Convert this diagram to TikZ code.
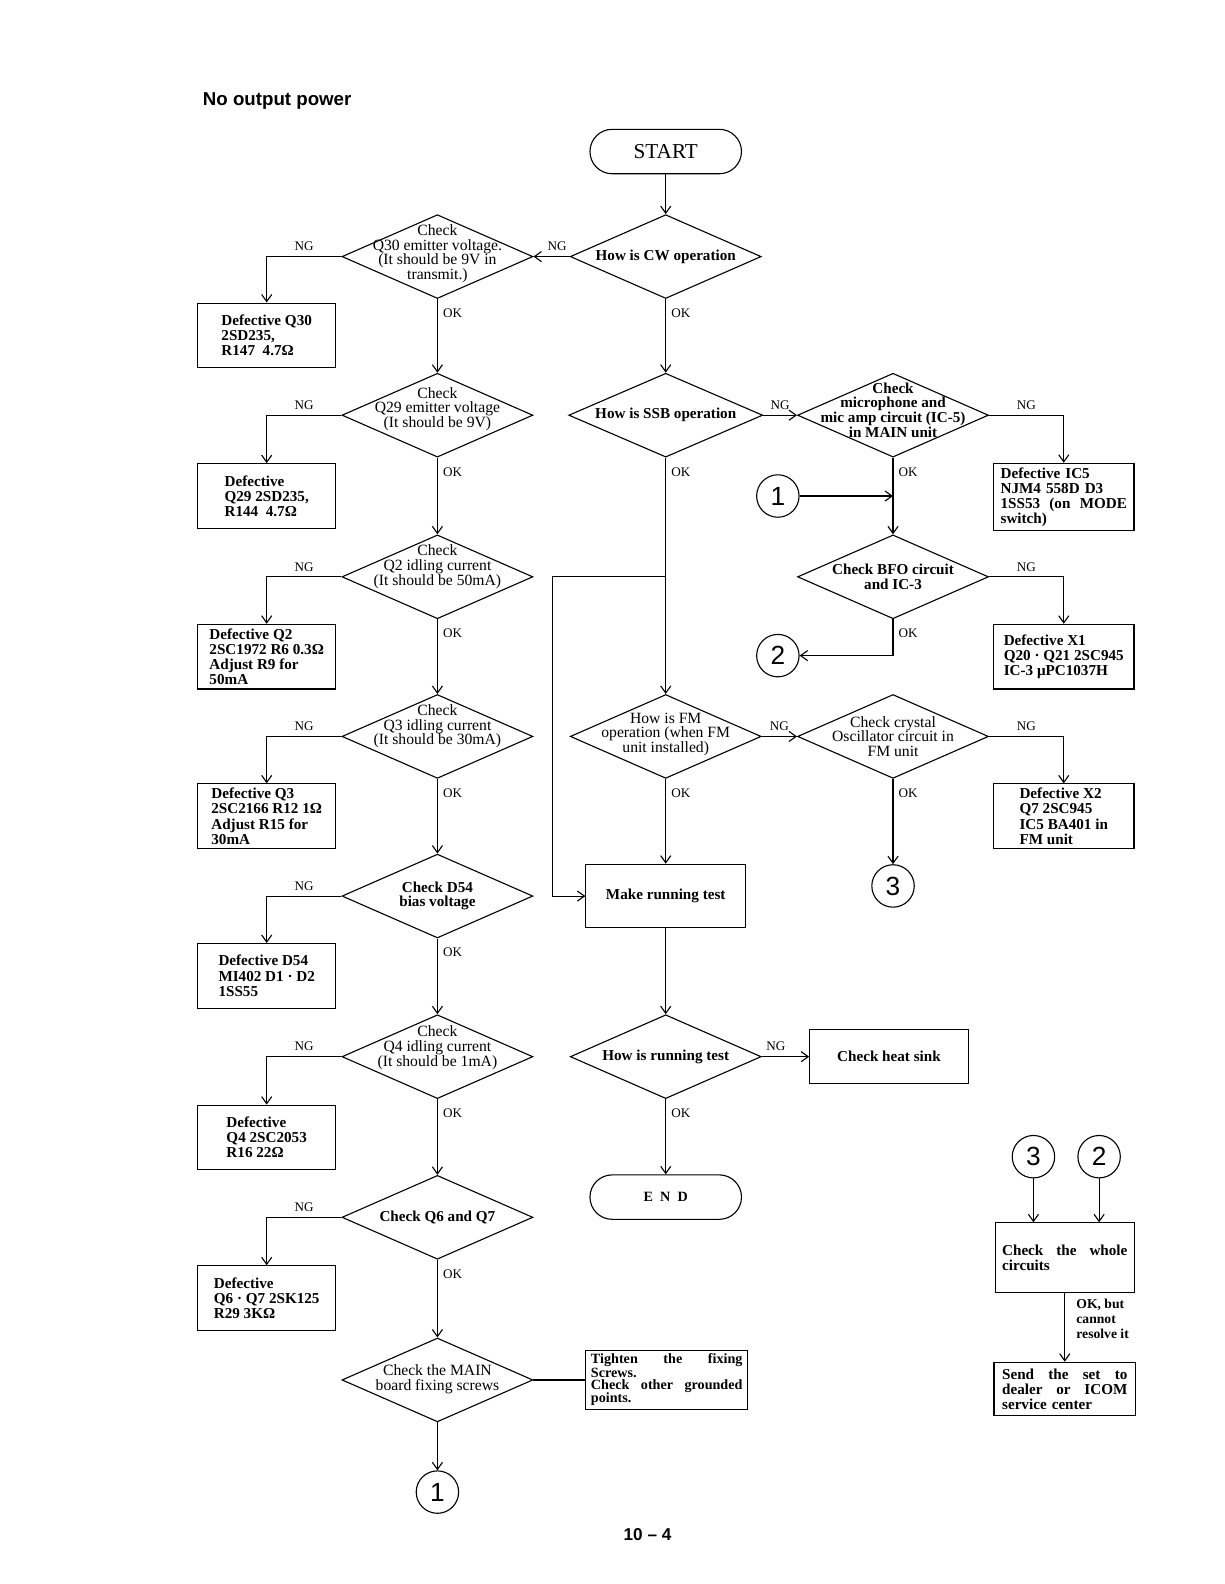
\documentclass[tikz,border=0pt]{standalone}
\usepackage{fontspec}
\setmainfont{Liberation Serif}
\setsansfont{Liberation Sans}
\usetikzlibrary{shapes.geometric,arrows.meta,positioning,calc}
\newcommand{\diafont}{\fontsize{15.5}{14.5}\selectfont}
\newcommand{\boxfont}{\fontsize{15}{15}\selectfont\bfseries}
\newcommand{\labfont}{\fontsize{13}{13}\selectfont}
\newcommand{\circfont}{\fontsize{26}{26}\selectfont\sffamily}

\begin{document}
\begin{tikzpicture}[x=1pt, y=-1pt, line width=1.1pt,
  >={Straight Barb[length=7pt,width=10pt]},
  dia/.style={diamond, draw, minimum width=189pt, minimum height=83pt, inner sep=0pt},
  dtext/.style={align=center, font=\diafont, inner sep=0pt},
  dbold/.style={dtext, font=\fontsize{15}{14.5}\selectfont\bfseries},
  defect/.style={rectangle, draw, minimum width=137pt, minimum height=64pt,
                 align=left, font=\boxfont, inner sep=4pt},
  plainbox/.style={rectangle, draw, align=center, font=\boxfont},
  term/.style={rectangle, draw, rounded corners=22pt, minimum width=150pt, minimum height=44pt},
  conn/.style={circle, draw, minimum size=42pt, inner sep=0pt, font=\circfont},
  ngl/.style={above=4pt, font=\labfont, inner sep=1pt},
  okl/.style={pos=0, anchor=west, yshift=-14pt, font=\labfont, inner sep=5pt},
]
\useasboundingbox (0,0) rectangle (1212,1568);

\node[anchor=west, font={\fontsize{18.5}{18.5}\selectfont\sffamily\bfseries}] (title) at (197,100) {No output power};

% middle column
\node[term, font=\fontsize{21}{21}\selectfont] (start) at (659,150) {START};
\node[dia, label={[dbold]center:How is CW operation}] (cw) at (659,254) {};
\node[dia, minimum width=192pt, label={[dbold]center:How is SSB operation}] (ssb) at (659,411) {};
\node[dia, label={[dtext, yshift=2pt]center:{How is FM\\operation (when FM\\unit installed)}}] (fm) at (659,729) {};
\node[plainbox, minimum width=158pt, minimum height=63pt] (run) at (659,887) {Make running test};
\node[dia, label={[dbold]center:How is running test}] (rt) at (659,1046) {};
\node[term, font=\fontsize{14}{14}\selectfont\bfseries] (finish) at (659,1185) {E\hspace{7pt}N\hspace{7pt}D};
\node[rectangle, draw, minimum width=160pt, minimum height=53pt, text width=150pt, inner xsep=5pt,
      align=left, font=\fontsize{14}{11.5}\selectfont\bfseries] (tight) at (660,1366)
      {Tighten\hfill the\hfill fixing\\Screws.\\Check\hfill other\hfill grounded\\points.};

% left column
\node[dia, label={[dtext, yshift=3pt]center:{Check\\Q30 emitter voltage.\\(It should be 9V in\\transmit.)}}] (q30) at (433,254) {};
\node[dia, label={[dtext, yshift=6pt]center:{Check\\Q29 emitter voltage\\(It should be 9V)}}] (q29) at (433,411) {};
\node[dia, label={[dtext, yshift=10pt]center:{Check\\Q2 idling current\\(It should be 50mA)}}] (q2) at (433,571) {};
\node[dia, label={[dtext, yshift=10pt]center:{Check\\Q3 idling current\\(It should be 30mA)}}] (q3) at (433,729) {};
\node[dia, label={[dbold]center:{Check D54\\bias voltage}}] (d54) at (433,887) {};
\node[dia, label={[dtext, yshift=9pt]center:{Check\\Q4 idling current\\(It should be 1mA)}}] (q4) at (433,1046) {};
\node[dia, label={[dbold]center:Check Q6 and Q7}] (q67) at (433,1205) {};
\node[dia, label={[dtext, yshift=1pt]center:{Check the MAIN\\board fixing screws}}] (scr) at (433,1366) {};
\node[conn] (c1b) at (433,1477) {1};

\node[defect] (dq30) at (264,332) {Defective Q30\\2SD235,\\R147\ \ 4.7Ω};
\node[defect] (dq29) at (264,491) {Defective\\Q29 2SD235,\\R144\ \ 4.7Ω};
\node[defect] (dq2) at (264,650) {Defective Q2\\2SC1972 R6 0.3Ω\\Adjust R9 for\\50mA};
\node[defect] (dq3) at (264,808) {Defective Q3\\2SC2166 R12 1Ω\\Adjust R15 for\\30mA};
\node[defect] (dd54) at (264,966) {Defective D54\\MI402 D1 · D2\\1SS55};
\node[defect] (dq4) at (264,1126) {Defective\\Q4 2SC2053\\R16 22Ω};
\node[defect] (dq67) at (264,1285) {Defective\\Q6 · Q7 2SK125\\R29 3KΩ};

% right column
\node[dia, label={[dbold, yshift=5pt]center:{Check\\microphone and\\mic amp circuit (IC-5)\\in MAIN unit}}] (mic) at (884,411) {};
\node[conn] (c1r) at (770,491) {1};
\node[dia, label={[dbold]center:{Check BFO circuit\\and IC-3}}] (bfo) at (884,571) {};
\node[conn] (c2r) at (770,649) {2};
\node[dia, label={[dtext]center:{Check crystal\\Oscillator circuit in\\FM unit}}] (xtal) at (884,729) {};
\node[conn] (c3r) at (884,877) {3};
\node[plainbox, minimum width=157pt, minimum height=53pt] (heat) at (880,1046) {Check heat sink};

\node[defect, minimum width=139pt, text width=125pt, inner xsep=5pt] (dic5) at (1053,492)
      {Defective IC5\\NJM4 558D D3\\1SS53\hfill(on\hfill MODE\\switch)};
\node[defect, minimum width=139pt] (dx1) at (1053,650) {Defective X1\\Q20 · Q21 2SC945\\IC-3 μPC1037H};
\node[defect, minimum width=139pt] (dx2) at (1053,808) {Defective X2\\Q7 2SC945\\IC5 BA401 in\\FM unit};

\node[conn] (c3x) at (1023,1145) {3};
\node[conn] (c2x) at (1088,1145) {2};
\node[rectangle, draw, minimum width=138pt, minimum height=69pt, text width=124pt, inner xsep=5pt,
      align=left, font=\boxfont] (whole) at (1054,1245) {Check\hfill the\hfill whole\\circuits};
\node[rectangle, draw, minimum width=140pt, minimum height=53pt, text width=124pt, inner xsep=5pt,
      align=left, font=\boxfont] (send) at (1054,1375)
      {Send\hfill the\hfill set\hfill to\\dealer\hfill or\hfill ICOM\\service center};

\node[font={\fontsize{17}{17}\selectfont\sffamily\bfseries}] (pg) at (641,1519) {10 – 4};

% connectors
\draw[->] (start) -- (cw);
\draw[->] (cw) -- node[ngl, pos=0.35]{NG} (q30);
\draw[->] (cw) -- node[okl]{OK} (ssb);
\foreach \a/\b in {q30/q29, q29/q2, q2/q3, q3/d54, d54/q4, q4/q67, q67/scr}
  \draw[->] (\a) -- node[okl]{OK} (\b);
\foreach \a in {q30,q29,q2,q3,d54,q4,q67}
  \draw[->] (\a.west) -| node[ngl, pos=0.25]{NG} (d\a);
\draw (scr) -- (tight);
\draw[->] (scr) -- (c1b);

\draw[->] (ssb) -- node[ngl]{NG} (mic);
\draw[->] (ssb) -- node[okl]{OK} (fm);
\coordinate (j2) at (659,571);
\draw[->] (j2) -- ++(-112,0) |- (run);
\draw[->] (fm) -- node[ngl]{NG} (xtal);
\draw[->] (fm) -- node[okl]{OK} (run);
\draw[->] (run) -- (rt);
\draw[->] (rt) -- node[ngl, pos=0.3]{NG} (heat);
\draw[->] (rt) -- node[okl]{OK} (finish);

\draw[->] (mic.east) -| node[ngl, pos=0.25]{NG} (dic5);
\draw[->] (mic) -- node[okl]{OK} (bfo);
\coordinate (j1) at (884,491);
\draw[->] (c1r) -- (j1);
\draw[->] (bfo.east) -| node[ngl, pos=0.25]{NG} (dx1);
\draw[->] (bfo) |- node[okl]{OK} (c2r);
\draw[->] (xtal.east) -| node[ngl, pos=0.25]{NG} (dx2);
\draw[->] (xtal) -- node[okl]{OK} (c3r);

\draw[->] (c3x) -- (c3x |- whole.north);
\draw[->] (c2x) -- (c2x |- whole.north);
\draw[->] (whole) -- node[pos=0, anchor=north west, align=left, inner sep=0pt, xshift=11pt, yshift=-5pt,
      font=\fontsize{13.5}{15}\selectfont\bfseries]{OK, but\\cannot\\resolve it} (send);
\end{tikzpicture}
\end{document}
